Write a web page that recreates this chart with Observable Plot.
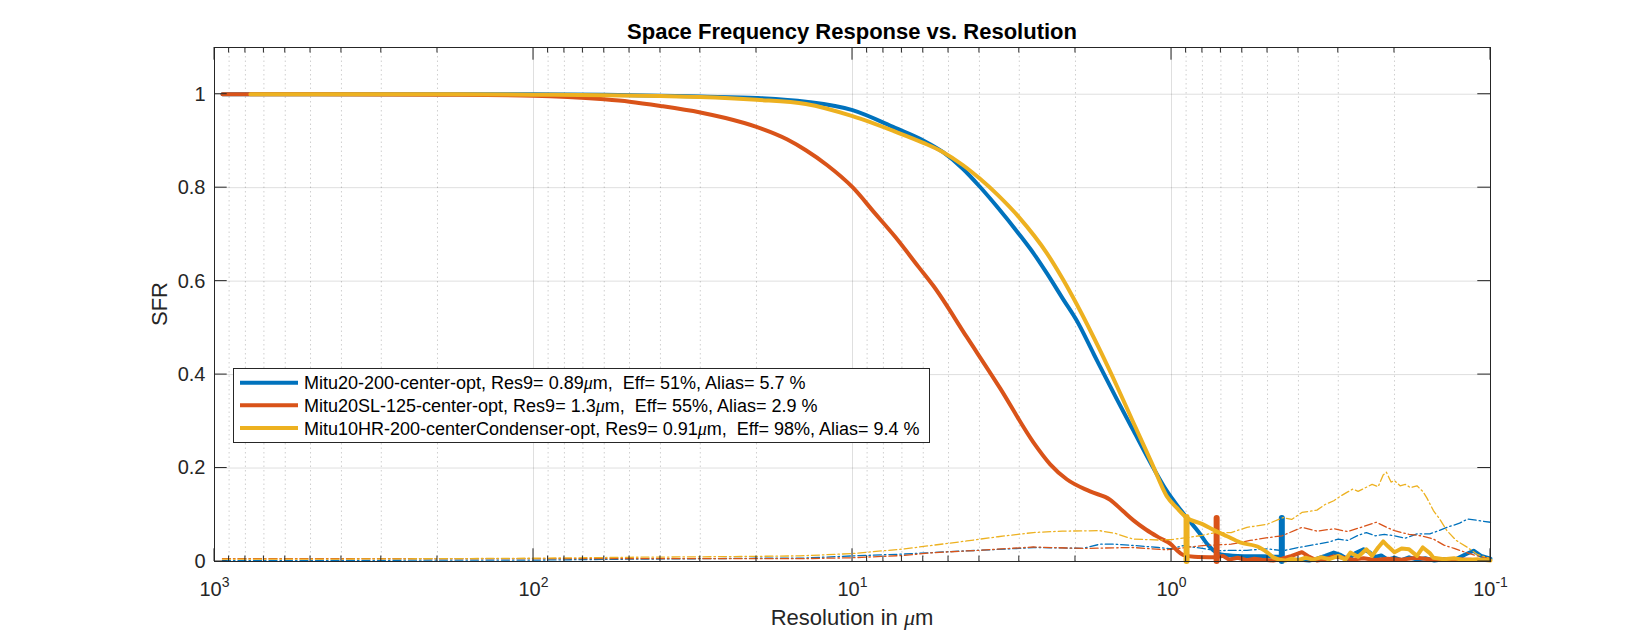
<!DOCTYPE html>
<html><head><meta charset="utf-8">
<script src="https://cdn.jsdelivr.net/npm/d3@7"></script>
<script src="https://cdn.jsdelivr.net/npm/@observablehq/plot@0.6"></script>
<style>
html,body{margin:0;padding:0;background:#fff}
#chart svg{display:block}
</style>
</head><body><div id="chart"></div>
<script>
// ---------------- data ----------------
const xTicks = [1000, 100, 10, 1, 0.1];
const yTicks = [0, 0.2, 0.4, 0.6, 0.8, 1];
const seriesNames = [
  ["Mitu20-200-center-opt, Res9= 0.89", "m,  Eff= 51%, Alias= 5.7 %"],
  ["Mitu20SL-125-center-opt, Res9= 1.3", "m,  Eff= 55%, Alias= 2.9 %"],
  ["Mitu10HR-200-centerCondenser-opt, Res9= 0.91", "m,  Eff= 98%, Alias= 9.4 %"]
];
const colors = ["#0072BD", "#D95319", "#EDB120"];

// solid SFR curves (resolution in µm, SFR)
const blueRes = [944,500,200,100,60,40,30,20,14,10,7.35,6,5.2,4.5,4,3.5,3,2.71,2.46,2.19,1.98,1.75,1.48,1.316,1.15,1.035,0.96,0.896,0.82,0.77,0.74,0.70,0.62,0.52,0.455];
const blueSFR = [1,1,1,1,0.999,0.997,0.995,0.992,0.984,0.966,0.928,0.901,0.876,0.840,0.803,0.757,0.700,0.660,0.617,0.562,0.515,0.443,0.346,0.280,0.205,0.151,0.120,0.094,0.062,0.036,0.024,0.015,0.012,0.011,0.010];
const blueTailRes = [0.455,0.43,0.40,0.37,0.35,0.33,0.31,0.295,0.28,0.265,0.25,0.24,0.23,0.22,0.21,0.2,0.19,0.18,0.17,0.16,0.15,0.14,0.13,0.12,0.113,0.107,0.1];
const blueTailSFR = [0.010,0.003,0.004,0.002,0.006,0.012,0.019,0.014,0.005,0.018,0.026,0.020,0.010,0.013,0.004,0.008,0.003,0.009,0.004,0.007,0.002,0.005,0.003,0.015,0.023,0.012,0.006];

const redRes = [944,500,200,100,60,50,40,30,25,20,16,14,12,10,8.5,7.35,6.2,5.58,4.38,3.44,2.71,2.4,2.13,1.80,1.556,1.42,1.316,1.2,1.086,1.0,0.962,0.92,0.85,0.725];
const redSFR = [1,1,0.999,0.997,0.989,0.984,0.975,0.961,0.949,0.930,0.903,0.880,0.848,0.801,0.745,0.695,0.630,0.590,0.480,0.370,0.255,0.208,0.176,0.150,0.132,0.108,0.088,0.068,0.050,0.036,0.024,0.014,0.010,0.009];
const redTailRes = [0.725,0.69,0.66,0.62,0.58,0.55,0.52,0.48,0.45,0.42,0.39,0.37,0.35,0.33,0.31,0.29,0.27,0.25,0.23,0.21,0.19,0.17,0.15,0.13,0.115];
const redTailSFR = [0.009,0.012,0.004,0.008,0.003,0.006,0.004,0.002,0.006,0.012,0.020,0.010,0.002,0.005,0.011,0.008,0.004,0.007,0.003,0.006,0.004,0.008,0.003,0.005,0.004];

const yelRes = [772,500,200,100,60,40,30,20,14,10,7.35,6,5.2,4.5,4,3.5,3,2.46,2.19,1.98,1.67,1.48,1.316,1.15,1.035,0.96,0.897,0.8,0.73,0.67,0.61,0.53,0.50,0.48];
const yelSFR = [1,1,1,0.999,0.998,0.996,0.994,0.988,0.979,0.953,0.920,0.896,0.876,0.848,0.820,0.784,0.736,0.660,0.604,0.550,0.450,0.374,0.297,0.209,0.140,0.114,0.094,0.080,0.066,0.054,0.041,0.030,0.019,0.009];
const yelTailRes = [0.48,0.46,0.44,0.42,0.40,0.38,0.36,0.34,0.32,0.30,0.285,0.275,0.26,0.245,0.235,0.225,0.217,0.21,0.2,0.19,0.18,0.17,0.163,0.155,0.151,0.14,0.13,0.12,0.11,0.1];
const yelTailSFR = [0.009,0.004,0.002,0.006,0.003,0.008,0.004,0.009,0.005,0.012,0.004,0.019,0.010,0.026,0.012,0.030,0.043,0.033,0.020,0.028,0.026,0.012,0.030,0.018,0.008,0.005,0.007,0.003,0.005,0.002];

// dash-dot (alias) curves
const blueAliasRes = [944,500,200,100,50,30,20,14.6,10,6.87,5,4,3,2.71,2.2,1.9,1.675,1.5,1.3,1.1,1.0,0.92,0.8,0.72,0.65,0.58,0.5,0.447,0.4,0.35,0.32,0.3,0.28,0.26,0.245,0.23,0.215,0.2,0.185,0.17,0.155,0.145,0.137,0.125,0.118,0.11,0.1];
const blueAliasSFR = [0.002,0.002,0.003,0.003,0.005,0.006,0.007,0.007,0.012,0.016,0.021,0.024,0.028,0.030,0.029,0.028,0.037,0.037,0.034,0.030,0.027,0.034,0.028,0.023,0.024,0.024,0.027,0.023,0.030,0.037,0.042,0.048,0.045,0.056,0.062,0.055,0.058,0.055,0.050,0.059,0.059,0.066,0.073,0.082,0.091,0.088,0.084];
const redAliasRes = [944,500,100,50,20,14.6,10,6.87,5.56,4,2.71,1.9,1.32,1.035,0.8,0.65,0.567,0.5,0.45,0.39,0.35,0.31,0.28,0.25,0.228,0.21,0.2,0.18,0.165,0.151,0.14,0.13,0.119,0.11,0.1];
const redAliasSFR = [0.006,0.006,0.006,0.006,0.006,0.006,0.008,0.013,0.019,0.024,0.031,0.028,0.030,0.025,0.034,0.037,0.045,0.051,0.055,0.073,0.065,0.070,0.064,0.075,0.084,0.072,0.066,0.058,0.055,0.048,0.035,0.028,0.019,0.012,0.006];
const yelAliasRes = [944,500,200,100,50,30,20,14.6,10,6.87,4.38,3.5,2.71,2.2,1.68,1.5,1.32,1.1,1.0,0.897,0.8,0.73,0.65,0.58,0.5,0.447,0.42,0.39,0.35,0.33,0.31,0.295,0.282,0.27,0.26,0.245,0.235,0.225,0.217,0.212,0.205,0.2,0.192,0.185,0.178,0.17,0.163,0.158,0.151,0.144,0.137,0.128,0.118,0.11,0.1];
const yelAliasSFR = [0.005,0.005,0.006,0.007,0.009,0.010,0.011,0.012,0.017,0.027,0.044,0.053,0.062,0.065,0.066,0.060,0.048,0.046,0.047,0.051,0.056,0.062,0.062,0.073,0.080,0.094,0.090,0.105,0.110,0.122,0.130,0.140,0.148,0.155,0.150,0.159,0.165,0.160,0.185,0.191,0.170,0.173,0.162,0.165,0.158,0.162,0.150,0.135,0.109,0.090,0.066,0.045,0.030,0.015,0.006];

// Res9 marker positions (resolution) and height
const markerRes = [0.451, 0.722, 0.897];
const markerTop = [0.092, 0.092, 0.094];

// ---------------- build ----------------
const FONT = "'Liberation Sans', Arial, Helvetica, sans-serif";
const zip = (r, v) => r.map((d, i) => ({r: d, v: v[i]}));
const decades = xTicks.slice(1);
const xMinor = [];
for (const d of decades) for (let m = 2; m <= 9; m++) xMinor.push(d * m);

const solids = [zip(blueRes, blueSFR), zip(redRes, redSFR), zip(yelRes, yelSFR)];
const tails = [zip(blueTailRes, blueTailSFR), zip(redTailRes, redTailSFR), zip(yelTailRes, yelTailSFR)];
const aliases = [zip(blueAliasRes, blueAliasSFR), zip(redAliasRes, redAliasSFR), zip(yelAliasRes, yelAliasSFR)];

const seriesMarks = [];
for (let i = 0; i < 3; i++) {
  seriesMarks.push(Plot.line(solids[i], {x: "r", y: "v", stroke: colors[i], strokeWidth: 4, curve: "monotone-x"}));
  seriesMarks.push(Plot.line(tails[i], {x: "r", y: "v", stroke: colors[i], strokeWidth: 4, strokeLinejoin: "round"}));
  seriesMarks.push(Plot.line(aliases[i], {x: "r", y: "v", stroke: colors[i], strokeWidth: 1.3, strokeDasharray: "8,3,1.5,3"}));
  seriesMarks.push(Plot.ruleX([markerRes[i]], {x: d => d, y1: 0, y2: markerTop[i], stroke: colors[i], strokeWidth: 6, strokeLinecap: "round"}));
}

const plot = Plot.plot({
  width: 1647, height: 630,
  marginLeft: 214, marginRight: 157, marginTop: 47, marginBottom: 69,
  style: {fontFamily: FONT, fontSize: "20px", color: "#262626", background: "#fff", overflow: "visible"},
  x: {type: "log", domain: [1000, 0.1], label: null},
  y: {domain: [0, 1.1], label: null},
  marks: [
    Plot.ruleX(xMinor, {x: d => d, stroke: "#262626", strokeOpacity: 0.28, strokeWidth: 0.8, strokeDasharray: "1.5,3"}),
    Plot.gridX(xTicks, {stroke: "#262626", strokeOpacity: 0.15, strokeWidth: 1}),
    Plot.gridY(yTicks, {stroke: "#262626", strokeOpacity: 0.15, strokeWidth: 1}),
    ...seriesMarks,
    Plot.frame({stroke: "#262626", strokeWidth: 1}),
    Plot.axisX(xTicks, {anchor: "bottom", tickSize: 0, tickPadding: 20, fontSize: 20, fill: "#262626",
      tickFormat: d => String(Math.round(Math.log10(d)))}),
    Plot.axisY(yTicks, {anchor: "left", tickSize: 0, tickPadding: 9, fontSize: 20, fill: "#262626",
      tickFormat: d => String(d)})
  ]
});
document.getElementById("chart").appendChild(plot);

// ---------------- post-processing (ticks, labels, title, legend) ----------------
const svg = d3.select(plot);
const X = plot.scale("x"), Y = plot.scale("y");
const L = X.apply(1000), R = X.apply(0.1), T = Y.apply(1.1), B = Y.apply(0);

// superscript exponents on x tick labels
svg.selectAll('g[aria-label="x-axis tick label"] text').each(function() {
  const e = this.textContent;
  const s = d3.select(this);
  s.text(null);
  s.append("tspan").text("10");
  s.append("tspan").attr("dy", -9).attr("font-size", 14).text(e);
});

// inward ticks on all four sides
const tg = svg.append("g").attr("stroke", "#262626").attr("stroke-width", 1).attr("fill", "none");
const majLen = 12.7, minLen = 5.5;
for (const v of xTicks) {
  const x = X.apply(v);
  tg.append("line").attr("x1", x).attr("x2", x).attr("y1", B).attr("y2", B - majLen);
  tg.append("line").attr("x1", x).attr("x2", x).attr("y1", T).attr("y2", T + majLen);
}
for (const v of xMinor) {
  const x = X.apply(v);
  tg.append("line").attr("x1", x).attr("x2", x).attr("y1", B).attr("y2", B - minLen);
  tg.append("line").attr("x1", x).attr("x2", x).attr("y1", T).attr("y2", T + minLen);
}
for (const v of yTicks) {
  const y = Y.apply(v);
  tg.append("line").attr("x1", L).attr("x2", L + majLen).attr("y1", y).attr("y2", y);
  tg.append("line").attr("x1", R).attr("x2", R - majLen).attr("y1", y).attr("y2", y);
}

// title
svg.append("text").attr("x", (L + R) / 2).attr("y", 39).attr("text-anchor", "middle")
  .attr("font-family", FONT).attr("font-size", 22).attr("font-weight", "bold").attr("fill", "#000")
  .text("Space Frequency Response vs. Resolution");

// x label
const xl = svg.append("text").attr("x", (L + R) / 2).attr("y", 625).attr("text-anchor", "middle")
  .attr("font-family", FONT).attr("font-size", 22).attr("fill", "#262626");
xl.append("tspan").text("Resolution in ");
xl.append("tspan").attr("font-style", "italic").attr("font-family", "'Liberation Serif', serif").text("\u03BC");
xl.append("tspan").text("m");

// y label
svg.append("text").attr("transform", `translate(167,${(T + B) / 2}) rotate(-90)`).attr("text-anchor", "middle")
  .attr("font-family", FONT).attr("font-size", 22).attr("fill", "#262626").text("SFR");

// legend
const lg = svg.append("g").attr("text-anchor", "start");
lg.append("rect").attr("x", 233.5).attr("y", 368.5).attr("width", 696).attr("height", 74)
  .attr("fill", "#fff").attr("stroke", "#262626").attr("stroke-width", 1);
const rowY = [382.7, 405.2, 428];
for (let i = 0; i < 3; i++) {
  lg.append("line").attr("x1", 240).attr("x2", 298).attr("y1", rowY[i]).attr("y2", rowY[i])
    .attr("stroke", colors[i]).attr("stroke-width", 4);
  const t = lg.append("text").attr("x", 304).attr("y", rowY[i] + 6.5).attr("text-anchor", "start")
    .attr("font-family", FONT).attr("font-size", 18).attr("fill", "#000")
    .attr("xml:space", "preserve").style("white-space", "pre");
  t.append("tspan").text(seriesNames[i][0]);
  t.append("tspan").attr("font-style", "italic").attr("font-family", "'Liberation Serif', serif").text("\u03BC");
  t.append("tspan").text(seriesNames[i][1]);
}
</script>
</body></html>
